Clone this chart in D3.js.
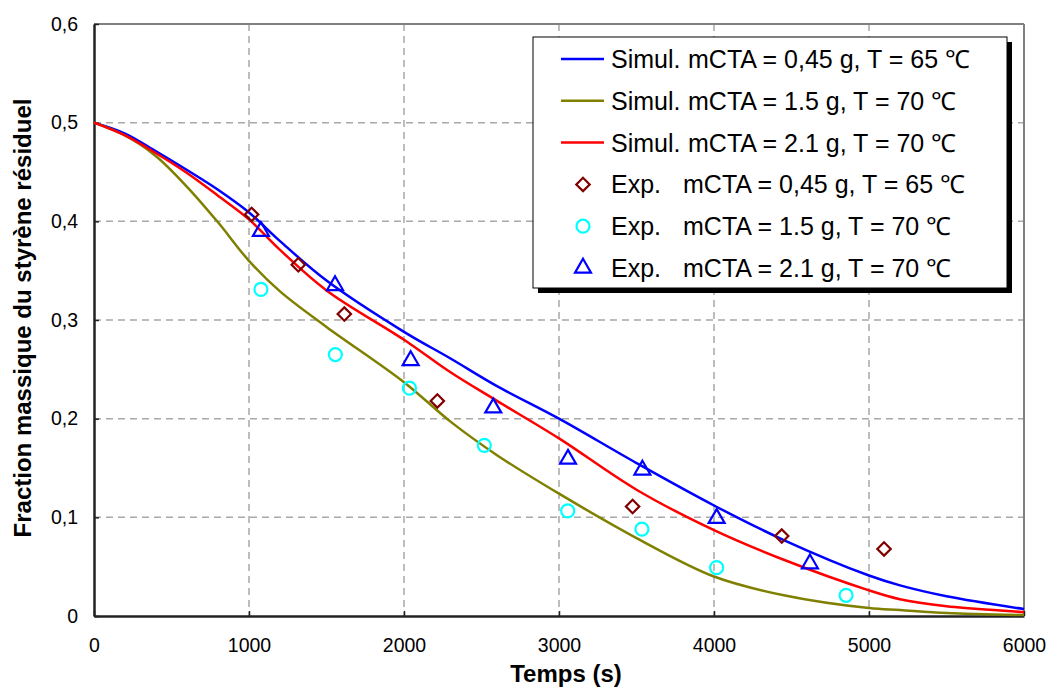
<html>
<head>
  <meta charset="utf-8">
  <title>styrene</title>
  <script src="https://d3js.org/d3.v7.min.js"></script>
  <style>
    body { margin: 0; background: #fff; }
    text { font-family: "Liberation Sans", Arial, sans-serif; fill: #000; }
  </style>
</head>
<body>
<script>
// simulated curves (time in s, mass fraction)
var simTime  = [0, 200, 400, 600, 800, 1000, 1200, 1500, 2000, 2300, 2600, 3000, 3500, 4000, 4450, 5000, 5200, 5500, 6000];
var simBlue  = [0.5, 0.489, 0.471, 0.452, 0.432, 0.409, 0.380, 0.340, 0.288, 0.261, 0.233, 0.200, 0.155, 0.112, 0.077, 0.041, 0.031, 0.020, 0.007];
var simOlive = [0.5, 0.487, 0.466, 0.435, 0.399, 0.360, 0.329, 0.293, 0.237, 0.197, 0.163, 0.124, 0.079, 0.040, 0.021, 0.008, 0.006, 0.003, 0.001];
var simRed   = [0.5, 0.487, 0.469, 0.449, 0.426, 0.402, 0.371, 0.330, 0.280, 0.247, 0.218, 0.180, 0.128, 0.087, 0.057, 0.026, 0.017, 0.010, 0.004];

// experimental points
var expDiamT = [1017, 1318, 1615, 2215, 3475, 4437, 5097];
var expDiamY = [0.407, 0.356, 0.306, 0.218, 0.111, 0.081, 0.068];
var expCircT = [1077, 1557, 2035, 2518, 3056, 3535, 4017, 4852];
var expCircY = [0.331, 0.265, 0.231, 0.173, 0.1065, 0.088, 0.049, 0.021];
var expTriT  = [1077, 1555, 2043, 2576, 3058, 3538, 4017, 4619];
var expTriY  = [0.390, 0.335, 0.259, 0.211, 0.159, 0.148, 0.099, 0.053];

var xTicks = [0, 1000, 2000, 3000, 4000, 5000, 6000];
var yTicks = [0, 0.1, 0.2, 0.3, 0.4, 0.5, 0.6];
var yTickLabels = ["0", "0,1", "0,2", "0,3", "0,4", "0,5", "0,6"];

var legendLabels = [
  ["Simul.", "mCTA = 0,45 g, T = 65 \u2103"],
  ["Simul.", "mCTA = 1.5 g, T = 70 \u2103"],
  ["Simul.", "mCTA = 2.1 g, T = 70 \u2103"],
  ["Exp.", "mCTA = 0,45 g, T = 65 \u2103"],
  ["Exp.", "mCTA = 1.5 g, T = 70 \u2103"],
  ["Exp.", "mCTA = 2.1 g, T = 70 \u2103"]
];

var margin = {top: 24, right: 23, bottom: 73, left: 94};
var W = 1047, H = 689;
var width = W - margin.left - margin.right;
var height = H - margin.top - margin.bottom;

var svg = d3.select("body").append("svg")
  .attr("width", W).attr("height", H);

svg.append("rect").attr("width", W).attr("height", H).attr("fill", "#fff");

var g = svg.append("g")
  .attr("transform", "translate(" + margin.left + "," + margin.top + ")");

var x = d3.scaleLinear().domain([0, 6000]).range([0, width]);
var y = d3.scaleLinear().domain([0, 0.6]).range([height, 0]);

// grid
g.selectAll(".vgrid").data(xTicks.slice(1, -1)).enter().append("line")
  .attr("x1", function(d){ return x(d); }).attr("x2", function(d){ return x(d); })
  .attr("y1", 0).attr("y2", height)
  .attr("stroke", "#a8a8a8").attr("stroke-width", 1.5).attr("stroke-dasharray", "7,5");
g.selectAll(".hgrid").data(yTicks.slice(1, -1)).enter().append("line")
  .attr("y1", function(d){ return y(d); }).attr("y2", function(d){ return y(d); })
  .attr("x1", 0).attr("x2", width)
  .attr("stroke", "#a8a8a8").attr("stroke-width", 1.5).attr("stroke-dasharray", "7,5");

// plot frame (top/right gray)
g.append("line").attr("x1", 0).attr("x2", width).attr("y1", 0).attr("y2", 0)
  .attr("stroke", "#808080").attr("stroke-width", 2);
g.append("line").attr("x1", width).attr("x2", width).attr("y1", 0).attr("y2", height)
  .attr("stroke", "#808080").attr("stroke-width", 2);

// axes
var xAxis = d3.axisBottom(x).tickValues(xTicks).tickSizeInner(-5).tickSizeOuter(0)
  .tickFormat(d3.format("d")).tickPadding(22);
var yAxis = d3.axisLeft(y).tickValues(yTicks).tickSizeInner(-5).tickSizeOuter(0)
  .tickFormat(function(d, i){ return yTickLabels[i]; }).tickPadding(16);

var gx = g.append("g").attr("transform", "translate(0," + height + ")").call(xAxis);
var gy = g.append("g").call(yAxis);
[gx, gy].forEach(function(a){
  a.select(".domain").attr("stroke", "#222").attr("stroke-width", 2.5);
  a.selectAll(".tick line").attr("stroke", "#222").attr("stroke-width", 1.5);
  a.selectAll(".tick text").attr("font-size", "19.5px")
    .attr("font-family", "Liberation Sans, Arial, sans-serif").attr("fill", "#000");
});

// curves
var line = d3.line()
  .x(function(d){ return x(d[0]); })
  .y(function(d){ return y(d[1]); })
  .curve(d3.curveCatmullRom.alpha(0.5));

var sims = [
  {vals: simBlue, color: "#0000ff"},
  {vals: simOlive, color: "#808000"},
  {vals: simRed, color: "#ff0000"}
];
sims.forEach(function(s){
  g.append("path")
    .datum(d3.zip(simTime, s.vals))
    .attr("d", line)
    .attr("fill", "none").attr("stroke", s.color).attr("stroke-width", 2.5);
});

// markers
var diamond = d3.symbol().type(d3.symbolSquare).size(90);
var tri = d3.symbol().type(d3.symbolTriangle).size(110);

g.selectAll(".diam").data(d3.zip(expDiamT, expDiamY)).enter().append("path")
  .attr("d", diamond)
  .attr("transform", function(d){ return "translate(" + x(d[0]) + "," + y(d[1]) + ") rotate(45)"; })
  .attr("fill", "none").attr("stroke", "#800000").attr("stroke-width", 2.2);

g.selectAll(".circ").data(d3.zip(expCircT, expCircY)).enter().append("circle")
  .attr("cx", function(d){ return x(d[0]); }).attr("cy", function(d){ return y(d[1]); })
  .attr("r", 6.5)
  .attr("fill", "none").attr("stroke", "#00ffff").attr("stroke-width", 2.2);

g.selectAll(".tri").data(d3.zip(expTriT, expTriY)).enter().append("path")
  .attr("d", tri)
  .attr("transform", function(d){ return "translate(" + x(d[0]) + "," + y(d[1]) + ")"; })
  .attr("fill", "none").attr("stroke", "#0000ff").attr("stroke-width", 2.2);

// axis titles
svg.append("text")
  .attr("x", margin.left + width / 2 + 7).attr("y", 682)
  .attr("text-anchor", "middle").attr("font-size", "24px").attr("font-weight", "bold")
  .text("Temps (s)");
svg.append("text")
  .attr("transform", "translate(31,318) rotate(-90)")
  .attr("text-anchor", "middle").attr("font-size", "24px").attr("font-weight", "bold")
  .text("Fraction massique du styrène résiduel");

// legend
var lg = svg.append("g").attr("transform", "translate(533,37)");
lg.append("rect").attr("x", 5).attr("y", 5).attr("width", 474).attr("height", 251).attr("fill", "#000");
lg.append("rect").attr("width", 474).attr("height", 251)
  .attr("fill", "#fff").attr("stroke", "#000").attr("stroke-width", 1);

var rowY = function(i){ return 22 + i * 41.8; };
var items = lg.selectAll(".item").data(legendLabels).enter().append("g")
  .attr("transform", function(d, i){ return "translate(0," + rowY(i) + ")"; });

items.each(function(d, i){
  var it = d3.select(this);
  if (i < 3) {
    it.append("line").attr("x1", 28).attr("x2", 71).attr("y1", 0).attr("y2", 0)
      .attr("stroke", sims[i].color).attr("stroke-width", 2.5);
  } else if (i === 3) {
    it.append("path").attr("d", diamond).attr("transform", "translate(50,0) rotate(45)")
      .attr("fill", "none").attr("stroke", "#800000").attr("stroke-width", 2.2);
  } else if (i === 4) {
    it.append("circle").attr("cx", 50).attr("cy", 0).attr("r", 6.5)
      .attr("fill", "none").attr("stroke", "#00ffff").attr("stroke-width", 2.2);
  } else {
    it.append("path").attr("d", tri).attr("transform", "translate(50,0)")
      .attr("fill", "none").attr("stroke", "#0000ff").attr("stroke-width", 2.2);
  }
  var t = it.append("text").attr("y", 9).attr("font-size", "25px");
  t.append("tspan").attr("x", 78).text(d[0]);
  t.append("tspan").attr("x", i < 3 ? 155 : 150).text(d[1]);
});
</script>
</body>
</html>
